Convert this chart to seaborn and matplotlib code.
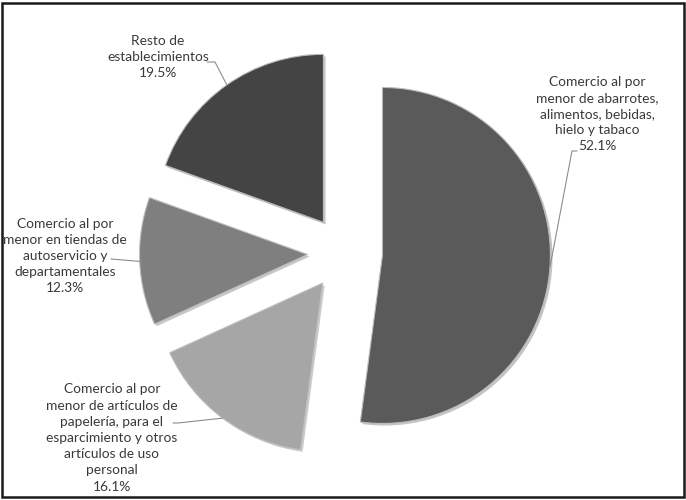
import seaborn as sns
import matplotlib.pyplot as plt
import matplotlib.patheffects as pe
from matplotlib.patches import Rectangle
import numpy as np

# Data ----------------------------------------------------------
categories = [
    "Comercio al por\nmenor de abarrotes,\nalimentos, bebidas,\nhielo y tabaco",
    "Comercio al por\nmenor de artículos de\npapelería, para el\nesparcimiento y otros\nartículos de uso\npersonal",
    "Comercio al por\nmenor en tiendas de\nautoservicio y\ndepartamentales",
    "Resto de\nestablecimientos",
]
shares = [52.1, 16.1, 12.3, 19.5]
colors = ["#5a5a5a", "#a6a6a6", "#7f7f7f", "#444444"]

# Layout (pixel coordinates, y measured from the top of the image)
W, H = 686, 500
center_px = (345, 253)
radius = 168
explode_dist = 37.5
text_pos = [(597, 114), (112, 438), (65, 256), (158, 57)]
leader_ends = [
    [(572, 151), (577, 151)],
    [(178, 423), (173, 423)],
    [(111, 259)],
    [(215, 62), (207, 62)],
]

sns.set_theme(style="white")
plt.rcParams["font.family"] = ["Lato", "DejaVu Sans"]

fig = plt.figure(figsize=(W / 100, H / 100), dpi=100)
ax = fig.add_axes([0, 0, 1, 1])


def flip(p):
    return (p[0], H - p[1])


wedges, _ = ax.pie(
    shares,
    colors=colors,
    startangle=90,
    counterclock=False,
    center=flip(center_px),
    radius=radius,
    explode=[explode_dist] * len(shares),
    wedgeprops=dict(edgecolor="#bdbdbd", linewidth=0.8),
)
for w in wedges:
    w.set_path_effects([pe.SimplePatchShadow(offset=(1.5, -1.5), alpha=0.25), pe.Normal()])

txt_color = "#3a3a3a"
for w, cat, val, tp, ends in zip(wedges, categories, shares, text_pos, leader_ends):
    mid = np.deg2rad((w.theta1 + w.theta2) / 2)
    ax_pt = (w.center[0] + w.r * np.cos(mid), w.center[1] + w.r * np.sin(mid))
    pts = [ax_pt] + [flip(p) for p in ends]
    ax.plot([p[0] for p in pts], [p[1] for p in pts], color="#8c8c8c", lw=0.8)
    tx, ty = flip(tp)
    ax.text(tx, ty, f"{cat}\n{val:.1f}%", ha="center", va="center",
            fontsize=9.9, color=txt_color, linespacing=1.42)

ax.set_xlim(0, W)
ax.set_ylim(0, H)
ax.set_aspect("equal")
ax.axis("off")

fig.patches.append(Rectangle((2 / W, 3 / H), 682 / W, 494 / H, transform=fig.transFigure,
                             fill=False, edgecolor="#1a1a1a", linewidth=1.8))

fig.savefig("out.png", dpi=100)
